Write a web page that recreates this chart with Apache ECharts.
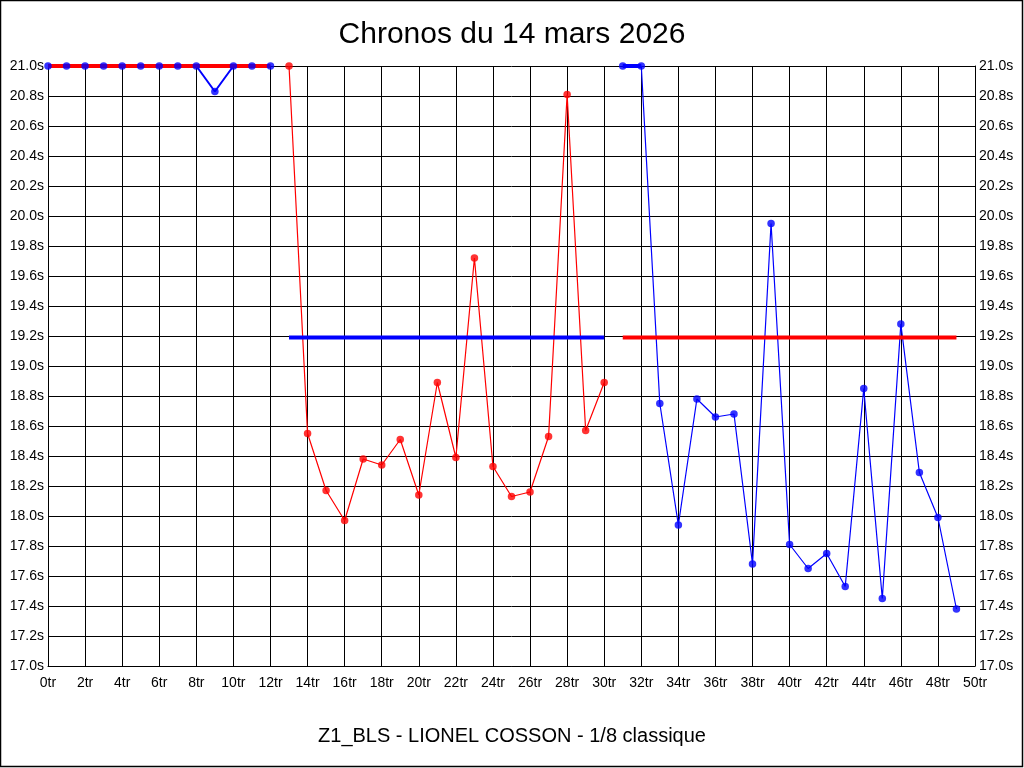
<!DOCTYPE html>
<html>
<head>
<meta charset="utf-8">
<script src="https://cdn.jsdelivr.net/npm/echarts@6/dist/echarts.min.js"></script>
<style>
html,body{margin:0;padding:0;background:#fff;}
#c{width:1024px;height:768px;}
</style>
</head>
<body>
<div id="c"></div>
<script>
// ---- data ----
const titleText = 'Chronos du 14 mars 2026';
const subtitleText = 'Z1_BLS - LIONEL COSSON - 1/8 classique';

const heat1Laps  = [0,1,2,3,4,5,6,7,8,9,10,11,12];
const heat1Times = [21.0,21.0,21.0,21.0,21.0,21.0,21.0,21.0,21.0,20.83,21.0,21.0,21.0];
const heat1Avg   = 21.0;     // clamped at axis max
const heat1AvgRange = [0, 12];

const heat2Laps  = [13,14,15,16,17,18,19,20,21,22,23,24,25,26,27,28,29,30];
const heat2Times = [21.0,18.55,18.17,17.97,18.38,18.34,18.51,18.14,18.89,18.39,19.72,18.33,18.13,18.16,18.53,20.81,18.57,18.89];
const heat2Avg   = 19.19;
const heat2AvgRange = [13, 30];

const heat3Laps  = [31,32,33,34,35,36,37,38,39,40,41,42,43,44,45,46,47,48,49];
const heat3Times = [21.0,21.0,18.75,17.94,18.78,18.66,18.68,17.68,19.95,17.81,17.65,17.75,17.53,18.85,17.45,19.28,18.29,17.99,17.38];
const heat3Avg   = 19.19;
const heat3AvgRange = [31, 49];
const heat3CapRange = [31, 32];  // thick segment at the cap

const yMin = 17.0, yMax = 21.0, yStep = 0.2;
const xMin = 0, xMax = 50, xStep = 2;

const BLUE = '#0000ff', RED = '#ff0000';
const FONT = 'Liberation Sans, Arial, sans-serif';

function pairs(xs, ys){ return xs.map((x,i)=>[x, ys[i]]); }
function hline(range, v){ return [[range[0], v],[range[1], v]]; }

function lineSeries(data, color, width, z){
  return {type:'line', data, symbol:'none', z, animation:false,
          lineStyle:{color, width}, itemStyle:{color}, silent:true};
}
function dotSeries(data, color, z){
  return {type:'scatter', data, symbol:'circle', symbolSize:7.5, z, animation:false,
          itemStyle:{color}, silent:true};
}

const chart = echarts.init(document.getElementById('c'), null, {renderer:'canvas'});
const axisLabelStyle = {color:'#000', fontSize:14, fontFamily:FONT};

chart.setOption({
  backgroundColor:'#fff',
  animation:false,
  title:[
    {text:titleText, left:'center', top:20, padding:0,
     textStyle:{fontSize:30, fontWeight:'normal', color:'#000', fontFamily:FONT}},
    {text:subtitleText, left:'center', top:726, padding:0,
     textStyle:{fontSize:20, fontWeight:'normal', color:'#000', fontFamily:FONT}}
  ],
  grid:{left:48, right:49, top:66, bottom:102, containLabel:false},
  xAxis:{
    type:'value', min:xMin, max:xMax, interval:xStep,
    axisLine:{show:true, onZero:false, lineStyle:{color:'#000', width:1}},
    axisTick:{show:false},
    axisLabel:Object.assign({margin:10, formatter:v=>v+'tr', showMinLabel:true, showMaxLabel:true}, axisLabelStyle),
    splitLine:{show:true, lineStyle:{color:'#000', width:1}}
  },
  yAxis:[
    {type:'value', min:yMin, max:yMax, interval:yStep, position:'left',
     axisLine:{show:true, lineStyle:{color:'#000', width:1}},
     axisTick:{show:false},
     axisLabel:Object.assign({margin:4, formatter:v=>v.toFixed(1)+'s'}, axisLabelStyle),
     splitLine:{show:true, lineStyle:{color:'#000', width:1}}},
    {type:'value', min:yMin, max:yMax, interval:yStep, position:'right',
     axisLine:{show:true, lineStyle:{color:'#000', width:1}},
     axisTick:{show:false},
     axisLabel:Object.assign({margin:4, formatter:v=>v.toFixed(1)+'s'}, axisLabelStyle),
     splitLine:{show:false}}
  ],
  graphic:[
    {type:'rect', shape:{x:0.5, y:0.5, width:1022, height:766}, style:{fill:null, stroke:'#000', lineWidth:1.5}, silent:true, z:100}
  ],
  series:[
    lineSeries(pairs(heat1Laps, heat1Times), BLUE, 2, 2),
    lineSeries(hline(heat1AvgRange, heat1Avg), RED, 4, 3),
    dotSeries(pairs(heat1Laps, heat1Times), BLUE, 4),

    lineSeries(pairs(heat2Laps, heat2Times), RED, 1.2, 2),
    lineSeries(hline(heat2AvgRange, heat2Avg), BLUE, 4, 3),
    dotSeries(pairs(heat2Laps, heat2Times), RED, 4),

    lineSeries(pairs(heat3Laps, heat3Times), BLUE, 1.2, 2),
    lineSeries(hline(heat3CapRange, yMax), BLUE, 4, 3),
    lineSeries(hline(heat3AvgRange, heat3Avg), RED, 4, 3),
    dotSeries(pairs(heat3Laps, heat3Times), BLUE, 4)
  ]
});
</script>
</body>
</html>
